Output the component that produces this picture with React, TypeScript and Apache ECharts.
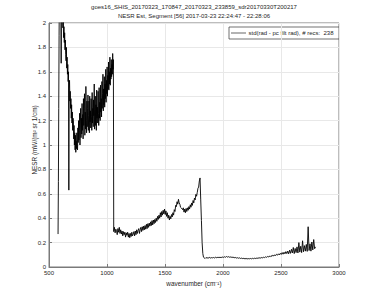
import React, { useEffect, useRef } from "react";
import * as echarts from "echarts";

// Title and labels
const TITLE_1 = "goes16_SHIS_20170323_170847_20170323_233859_sdr20170330T200217";
const TITLE_2 = "NESR Est, Segment [56] 2017-03-23 22:24:47 - 22:28:06";
const Y_LABEL = "NESR (mW/(m\u00B2 sr 1/cm)";
const X_LABEL = "wavenumber (cm\u207B\u00B9)";
const LEGEND_NAME = "std(rad - pc filt rad), # recs:  238";

// Axis ranges / ticks
const X_MIN = 500, X_MAX = 3000, X_STEP = 500;
const Y_MIN = 0, Y_MAX = 2, Y_STEP = 0.2;

// Band 1 (longwave) sampled every 3 cm-1 from 578
const BAND1_START = 578;
const BAND1_STEP = 3;
const band1 = [
  0.27, 0.7, 1.3, 1.9, 2.4, 2.5, 2.2, 2.6, 2.4, 1.67,
  2.45, 2.3, 2.2, 2.05, 1.96, 2.02, 1.88, 1.97, 1.84, 1.92,
  1.78, 1.86, 1.74, 1.69, 1.8, 1.63, 1.72, 1.58, 1.66, 1.52,
  1.6, 0.63, 1.46, 1.53, 1.36, 1.44, 1.3, 1.38, 1.22, 1.33,
  1.18, 1.27, 1.12, 1.22, 1.2, 1.05, 1.16, 1.0, 1.1, 0.96,
  1.08, 0.94, 1.03, 0.97, 1.1, 1.0, 0.96, 1.14, 1.02, 1.2,
  1.04, 1.12, 1.26, 1.0, 1.18, 1.3, 1.06, 1.22, 1.09, 1.34,
  1.12, 1.25, 1.05, 1.38, 1.16, 1.3, 1.42, 1.08, 1.27, 1.13,
  1.48, 1.2, 1.1, 1.36, 1.15, 1.3, 1.41, 1.12, 1.24, 1.36,
  1.1, 1.4, 1.19, 1.28, 1.14, 1.38, 1.23, 1.12, 1.43, 1.18,
  1.3, 1.15, 1.37, 1.24, 1.5, 1.13, 1.29, 1.4, 1.16, 1.33,
  1.12, 1.45, 1.22, 1.31, 1.18, 1.44, 1.26, 1.16, 1.47, 1.22,
  1.35, 1.2, 1.49, 1.27, 1.38, 1.23, 1.52, 1.3, 1.42, 1.58,
  1.28, 1.46, 1.33, 1.56, 1.31, 1.5, 1.38, 1.62, 1.35, 1.53,
  1.42, 1.64, 1.4, 1.57, 1.46, 1.68, 1.45, 1.6, 1.5, 1.72,
  1.49, 1.63, 1.54, 1.7, 1.56, 1.66, 1.58, 1.75, 1.62, 1.7,
];

// Band 2 (midwave) sampled every 6 cm-1 from 1058
const BAND2_START = 1058;
const BAND2_STEP = 6;
const band2 = [
  0.29, 0.325, 0.28, 0.31, 0.3, 0.265, 0.315, 0.285, 0.325, 0.275,
  0.305, 0.27, 0.295, 0.255, 0.29, 0.265, 0.285, 0.245, 0.28, 0.26,
  0.285, 0.245, 0.275, 0.24, 0.275, 0.25, 0.285, 0.255, 0.27, 0.29,
  0.255, 0.295, 0.265, 0.305, 0.275, 0.3, 0.315, 0.275, 0.305, 0.325,
  0.29, 0.33, 0.3, 0.335, 0.305, 0.34, 0.31, 0.35, 0.315, 0.355,
  0.325, 0.36, 0.335, 0.37, 0.34, 0.38, 0.345, 0.385, 0.355, 0.39,
  0.365, 0.4, 0.375, 0.415, 0.39, 0.425, 0.4, 0.445, 0.41, 0.455,
  0.425, 0.465, 0.435, 0.475, 0.43, 0.46, 0.415, 0.445, 0.4, 0.425,
  0.385, 0.415, 0.395, 0.43, 0.41, 0.445, 0.425, 0.47, 0.455, 0.505,
  0.495, 0.535, 0.515, 0.555, 0.525, 0.515, 0.49, 0.485, 0.485, 0.47,
  0.485, 0.45, 0.475, 0.445, 0.48, 0.455, 0.485, 0.465, 0.495, 0.475,
  0.51, 0.49, 0.525, 0.505, 0.545, 0.525, 0.565, 0.55, 0.595, 0.58,
  0.61, 0.645, 0.655, 0.705, 0.73, 0.55, 0.38, 0.2, 0.11, 0.08,
];

// Band 3 (shortwave) sampled every 8 cm-1 from 1838
const BAND3_START = 1838;
const BAND3_STEP = 8;
const band3 = [
  0.075, 0.07, 0.078, 0.072, 0.076, 0.074, 0.079, 0.073, 0.077, 0.075,
  0.078, 0.074, 0.08, 0.076, 0.079, 0.077, 0.081, 0.076, 0.08, 0.078,
  0.082, 0.079, 0.084, 0.08, 0.086, 0.081, 0.085, 0.08, 0.083, 0.079,
  0.082, 0.077, 0.08, 0.075, 0.078, 0.073, 0.076, 0.072, 0.075, 0.07,
  0.073, 0.069, 0.072, 0.067, 0.071, 0.066, 0.07, 0.066, 0.069, 0.067,
  0.07, 0.067, 0.071, 0.068, 0.072, 0.069, 0.073, 0.07, 0.075, 0.072,
  0.076, 0.073, 0.078, 0.075, 0.08, 0.077, 0.083, 0.079, 0.086, 0.082,
  0.089, 0.084, 0.093, 0.087, 0.097, 0.09, 0.1, 0.094, 0.104, 0.097,
  0.108, 0.099, 0.112, 0.103, 0.118, 0.105, 0.121, 0.108, 0.126, 0.11,
  0.13, 0.108, 0.138, 0.112, 0.145, 0.115, 0.16, 0.11, 0.152, 0.118,
  0.165, 0.115, 0.2, 0.122, 0.17, 0.118, 0.215, 0.125, 0.175, 0.13,
  0.185, 0.128, 0.33, 0.135, 0.19, 0.13, 0.205, 0.14, 0.225, 0.15,
  0.165,
];

const FONT = '"Liberation Sans", Arial, Helvetica, sans-serif';
const TEXT_COLOR = "#262626";
const AXIS_COLOR = "#7a7a7a";

function buildData(): [number, number][] {
  const out: [number, number][] = [];
  band1.forEach((v, i) => out.push([BAND1_START + i * BAND1_STEP, v]));
  band2.forEach((v, i) => out.push([BAND2_START + i * BAND2_STEP, v]));
  band3.forEach((v, i) => out.push([BAND3_START + i * BAND3_STEP, v]));
  return out;
}

export default function App() {
  const ref = useRef<HTMLDivElement>(null);
  useEffect(() => {
    if (!ref.current) return;
    const chart = echarts.init(ref.current, undefined, { renderer: "svg" });
    const axisCommon = {
      axisLine: { show: true, lineStyle: { color: AXIS_COLOR, width: 1 } },
      axisTick: { show: true, inside: true, length: 3, lineStyle: { color: AXIS_COLOR } },
      splitLine: { show: true, lineStyle: { color: "#e8e8e8", width: 1 } },
    };
    const labelStyle = {
      color: TEXT_COLOR,
      fontSize: 6,
      fontFamily: FONT,
      margin: 3,
      formatter: (v: number) => String(v),
    };
    chart.setOption({
      animation: false,
      backgroundColor: "#ffffff",
      grid: {
        left: 49,
        right: 36,
        top: 23,
        bottom: 34,
        show: true,
        borderColor: AXIS_COLOR,
        borderWidth: 1,
        backgroundColor: "#ffffff",
      },
      xAxis: {
        type: "value",
        min: X_MIN,
        max: X_MAX,
        interval: X_STEP,
        ...axisCommon,
        axisLabel: labelStyle,
      },
      yAxis: {
        type: "value",
        min: Y_MIN,
        max: Y_MAX,
        interval: Y_STEP,
        ...axisCommon,
        axisLabel: labelStyle,
      },
      legend: { show: false },
      graphic: [
        {
          type: "text",
          x: 194,
          y: 7,
          style: {
            text: TITLE_1,
            fill: TEXT_COLOR,
            font: `6px ${FONT}`,
            textAlign: "center",
            textVerticalAlign: "middle",
          },
        },
        {
          type: "text",
          x: 194,
          y: 15.5,
          style: {
            text: TITLE_2,
            fill: TEXT_COLOR,
            font: `6px ${FONT}`,
            textAlign: "center",
            textVerticalAlign: "middle",
          },
        },
        {
          type: "text",
          x: 34,
          y: 140,
          rotation: Math.PI / 2,
          style: {
            text: Y_LABEL,
            fill: TEXT_COLOR,
            font: `6.4px ${FONT}`,
            textAlign: "center",
            textVerticalAlign: "middle",
          },
        },
        {
          type: "text",
          x: 194,
          y: 283,
          style: {
            text: X_LABEL,
            fill: TEXT_COLOR,
            font: `6.4px ${FONT}`,
            textAlign: "center",
            textVerticalAlign: "middle",
          },
        },
        {
          type: "group",
          x: 229,
          y: 27,
          z: 100,
          children: [
            {
              type: "rect",
              shape: { x: 0, y: 0, width: 110, height: 12 },
              style: { fill: "#ffffff", stroke: "#333333", lineWidth: 0.7 },
            },
            {
              type: "line",
              shape: { x1: 2, y1: 6, x2: 17, y2: 6 },
              style: { stroke: "#000000", lineWidth: 0.6 },
            },
            {
              type: "text",
              x: 19.5,
              y: 6,
              style: {
                text: LEGEND_NAME,
                fill: TEXT_COLOR,
                font: `6px ${FONT}`,
                textAlign: "left",
                textVerticalAlign: "middle",
              },
            },
          ],
        },
      ],
      series: [
        {
          name: LEGEND_NAME,
          type: "line",
          data: buildData(),
          showSymbol: false,
          symbol: "none",
          clip: true,
          lineStyle: { color: "#000000", width: 0.9 },
          itemStyle: { color: "#000000" },
        },
      ],
    });
    return () => chart.dispose();
  }, []);
  return (
    <div
      ref={ref}
      style={{ position: "fixed", left: 0, top: 0, width: 375, height: 301, background: "#fff" }}
    />
  );
}
